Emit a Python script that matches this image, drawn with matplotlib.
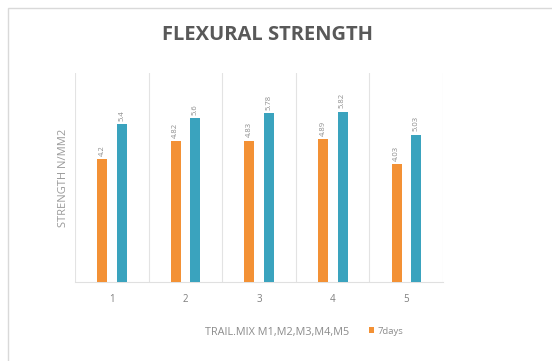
import matplotlib
matplotlib.use("Agg")
import matplotlib.pyplot as plt
from matplotlib.patches import Rectangle
import numpy as np

categories = ["1", "2", "3", "4", "5"]
days7 = [4.2, 4.82, 4.83, 4.89, 4.03]
days28 = [5.4, 5.6, 5.78, 5.82, 5.03]
series_names = ["7days", "28days"]
title = "FLEXURAL STRENGTH"
xlabel = "TRAIL.MIX M1,M2,M3,M4,M5"
ylabel = "STRENGTH N/MM2"

orange = "#F39135"
blue = "#3AA3BE"
grey_txt = "#7f7f7f"

plt.rcParams['font.family'] = ['Open Sans', 'DejaVu Sans']

fig = plt.figure(figsize=(5.52, 3.61), dpi=100)
fig.patches.append(Rectangle((8/552, -0.05), 1.2, 1 - 8/361 + 0.05, transform=fig.transFigure,
                             fill=False, edgecolor="#d9d9d9", linewidth=1.0))

ax = fig.add_axes([75/552, 1 - 282/361, 368/552, 209/361])
x = np.arange(1, len(categories) + 1)
w = 0.135
b1 = ax.bar(x - 0.13, days7, width=w, color=orange, label=series_names[0], zorder=3)
b2 = ax.bar(x + 0.135, days28, width=w, color=blue, label=series_names[1], zorder=3)

for bars, vals in ((b1, days7), (b2, days28)):
    for rect, v in zip(bars, vals):
        ax.text(rect.get_x() + rect.get_width() / 2, v + 0.12, f"{v:g}", rotation=90,
                ha="center", va="bottom", fontsize=5.5, color="#8c8c8c")

ax.set_xlim(0.5, 5.5)
ax.set_ylim(0, 7.15)
ax.set_xticks(x)
ax.set_xticklabels(categories, fontsize=7, color=grey_txt)
ax.set_xticks(np.arange(0.5, 5.6, 1.0), minor=True)
ax.grid(True, axis="x", which="minor", color="#e3e3e3", linewidth=0.8, zorder=0)
ax.tick_params(axis="x", which="both", length=0, pad=9)
ax.set_yticks([])
for s in ["top", "right", "left"]:
    ax.spines[s].set_visible(False)
ax.spines["bottom"].set_color("#e0e0e0")

ax.set_ylabel(ylabel, fontsize=8, color="#999999")
ax.yaxis.set_label_coords(-0.015, 0.5)

fig.text(268/552, 1 - 35/361, title, ha="center", va="center", fontsize=14.5,
         fontweight="bold", color="#595959")
fig.text(277/552, 1 - 333/361, xlabel, ha="center", va="center", fontsize=7.8,
         color="#8c8c8c")

leg = fig.legend(handles=[b1], labels=[series_names[0]], loc="center left",
                 bbox_to_anchor=(364/552, 1 - 331/361), frameon=False, fontsize=6.8,
                 handlelength=0.6, handleheight=0.6, handletextpad=0.3, borderpad=0)
for t in leg.get_texts():
    t.set_color("#8c8c8c")

fig.savefig("out.png", dpi=100, facecolor="white")
